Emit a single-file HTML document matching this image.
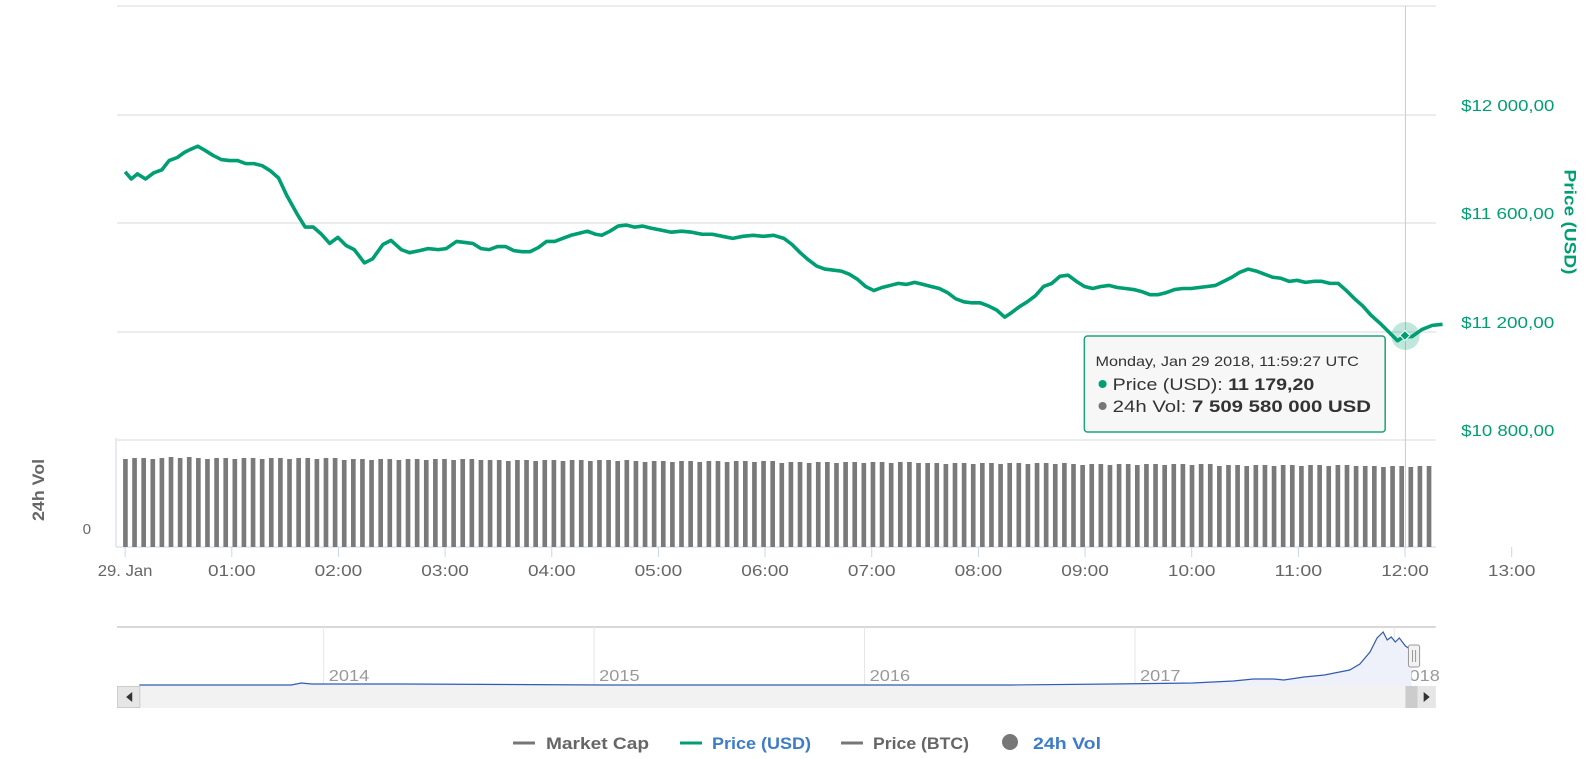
<!DOCTYPE html>
<html><head><meta charset="utf-8"><style>
body{margin:0;background:#fff;width:1596px;height:759px;overflow:hidden}
svg{display:block;font-family:"Liberation Sans","DejaVu Sans",sans-serif}
</style></head><body>
<svg id="s" width="1596" height="759" xmlns="http://www.w3.org/2000/svg">
<g transform="matrix(1.0129,0,0,1,-2.5,0)">
<g stroke="#e6e6e6" stroke-width="1.5">
<line x1="118" x2="1420" y1="6" y2="6"/><line x1="118" x2="1420" y1="115" y2="115"/>
<line x1="118" x2="1420" y1="223" y2="223"/><line x1="118" x2="1420" y1="332" y2="332"/>
<line x1="118" x2="1420" y1="440" y2="440"/>
</g>
<g fill="#009e73" font-size="16" lengthAdjust="spacingAndGlyphs">
<text x="1445" y="111" textLength="92" lengthAdjust="spacingAndGlyphs">$12 000,00</text><text x="1445" y="219" textLength="92" lengthAdjust="spacingAndGlyphs">$11 600,00</text>
<text x="1445" y="328" textLength="92" lengthAdjust="spacingAndGlyphs">$11 200,00</text><text x="1445" y="436" textLength="92" lengthAdjust="spacingAndGlyphs">$10 800,00</text>
</g>
<text transform="translate(1547,222) rotate(90)" fill="#009e73" font-size="16" font-weight="bold" text-anchor="middle" textLength="105" lengthAdjust="spacingAndGlyphs">Price (USD)</text>
<text transform="translate(46,490) rotate(-90)" fill="#666" font-size="16" font-weight="bold" text-anchor="middle" textLength="62" lengthAdjust="spacingAndGlyphs">24h Vol</text>
<text x="84" y="534" fill="#666" font-size="15">0</text>
<line x1="117" x2="117" y1="438" y2="547" stroke="#ccd6eb"/>
<line x1="117" x2="1420" y1="547" y2="547" stroke="#ccd6eb"/>
<g id="bars" fill="#7a7a7a"></g>
<g id="ticks" stroke="#ccd6eb"></g>
<g id="xl" fill="#666" font-size="16" text-anchor="middle"></g>
<line x1="1390" x2="1390" y1="6" y2="547" stroke="#ccc"/>
<g transform="translate(126,6) scale(1.0098,1.0236) translate(-122,-7)">
<polyline id="pl" fill="none" stroke="#009e73" stroke-width="3.5" stroke-linejoin="round"/>
</g>
<circle cx="1390" cy="336" r="14" fill="#009e73" opacity="0.25"/>
<rect x="1386" y="332" width="7" height="7" fill="#009e73" stroke="#fff" transform="rotate(45 1389.5 335.5)"/>
<!-- tooltip -->
<rect x="1073" y="336" width="297" height="96" rx="3" fill="#f7f7f7" stroke="#1fa37a" stroke-width="1.5"/>
<text x="1084" y="366" font-size="14" fill="#333" textLength="260" lengthAdjust="spacingAndGlyphs">Monday, Jan 29 2018, 11:59:27 UTC</text>
<circle cx="1091" cy="384" r="4" fill="#009e73"/>
<text x="1101" y="390" font-size="17" fill="#333" textLength="199" lengthAdjust="spacingAndGlyphs">Price (USD): <tspan font-weight="bold">11 179,20</tspan></text>
<circle cx="1091" cy="406" r="4" fill="#777"/>
<text x="1101" y="412" font-size="17" fill="#333" textLength="255" lengthAdjust="spacingAndGlyphs">24h Vol: <tspan font-weight="bold">7 509 580 000 USD</tspan></text>
<!-- navigator -->
<line x1="118" x2="1420" y1="627" y2="627" stroke="#ccc" stroke-width="1.5"/>
<g stroke="#e6e6e6"><line x1="322" x2="322" y1="627" y2="686"/><line x1="589" x2="589" y1="627" y2="686"/><line x1="856" x2="856" y1="627" y2="686"/><line x1="1123" x2="1123" y1="627" y2="686"/><line x1="1379" x2="1379" y1="627" y2="686"/></g>
<g fill="#999" font-size="16"><text x="327" y="681" textLength="40" lengthAdjust="spacingAndGlyphs">2014</text><text x="594" y="681" textLength="40" lengthAdjust="spacingAndGlyphs">2015</text><text x="861" y="681" textLength="40" lengthAdjust="spacingAndGlyphs">2016</text><text x="1128" y="681" textLength="40" lengthAdjust="spacingAndGlyphs">2017</text><text x="1384" y="681" textLength="40" lengthAdjust="spacingAndGlyphs">2018</text></g>
<path d="M140,685 L290,685 L300,683 L310,684 L400,684 L600,685 L1000,685 L1100,684 L1180,683 L1220,681 L1240,679 L1260,679 L1270,680 L1290,677 L1310,675 L1325,672 L1335,670 L1345,664 L1355,652 L1362,638 L1368,632 L1372,640 L1376,637 L1380,642 L1384,638 L1390,646 L1396,650 L1396,686 L140,686 Z" fill="#eef1f9"/>
<path d="M140,685 L290,685 L300,683 L310,684 L400,684 L600,685 L1000,685 L1100,684 L1180,683 L1220,681 L1240,679 L1260,679 L1270,680 L1290,677 L1310,675 L1325,672 L1335,670 L1345,664 L1355,652 L1362,638 L1368,632 L1372,640 L1376,637 L1380,642 L1384,638 L1390,646 L1396,650" fill="none" stroke="#335cad" stroke-width="1.2"/>
<rect x="118" y="686" width="1302" height="22" fill="#f2f2f2"/>
<rect x="118.5" y="686.5" width="22" height="21" fill="#e6e6e6" stroke="#ccc"/>
<path d="M133,692 L127,697 L133,702Z" fill="#333"/>
<rect x="1390" y="686" width="12" height="22" fill="#ccc"/>
<rect x="1402" y="686" width="18" height="22" fill="#e6e6e6"/>
<path d="M1408,692 L1414,697 L1408,702Z" fill="#333"/>
<rect x="1393" y="645" width="11" height="22" rx="2" fill="#f2f2f2" stroke="#999"/>
<line x1="1397" x2="1397" y1="650" y2="662" stroke="#999"/><line x1="1400" x2="1400" y1="650" y2="662" stroke="#999"/>
</g>
<!-- legend -->
<g font-size="17" font-weight="bold">
<line x1="513" x2="535" y1="743" y2="743" stroke="#777" stroke-width="3"/><text x="546" y="749" fill="#666" textLength="103" lengthAdjust="spacingAndGlyphs">Market Cap</text>
<line x1="680" x2="702" y1="743" y2="743" stroke="#009e73" stroke-width="3"/><text x="712" y="749" fill="#3d7cc9" textLength="99" lengthAdjust="spacingAndGlyphs">Price (USD)</text>
<line x1="841" x2="863" y1="743" y2="743" stroke="#777" stroke-width="3"/><text x="873" y="749" fill="#666" textLength="96" lengthAdjust="spacingAndGlyphs">Price (BTC)</text>
<circle cx="1010" cy="742" r="8" fill="#777"/><text x="1033" y="749" fill="#3d7cc9" textLength="68" lengthAdjust="spacingAndGlyphs">24h Vol</text>
</g>
</svg>
<script>
var pts=[[122,169],[128,176],[134,171],[142,176],[150,170],[158,167],[165,158],[173,155],[180,150],[186,147],[193,144],[200,148],[208,153],[216,157],[224,158],[232,158],[240,161],[248,161],[256,163],[264,168],[272,175],[280,192],[290,210],[298,223],[306,223],[314,230],[322,239],[330,233],[338,241],[346,245],[356,258],[364,254],[374,240],[382,236],[392,245],[400,248],[410,246],[418,244],[428,245],[436,244],[446,237],[454,238],[462,239],[470,244],[478,245],[486,242],[494,242],[502,246],[510,247],[518,247],[526,243],[534,237],[542,237],[550,234],[558,231],[566,229],[574,227],[582,230],[588,231],[596,227],[604,222],[612,221],[620,223],[628,222],[636,224],[646,226],[656,228],[666,227],[676,228],[686,230],[696,230],[706,232],[716,234],[726,232],[736,231],[746,232],[756,231],[766,234],[774,240],[782,248],[790,255],[798,261],[806,264],[814,265],[822,266],[830,269],[838,274],[846,281],[854,285],[862,282],[870,280],[878,278],[886,279],[894,277],[902,279],[910,281],[918,283],[926,287],[934,293],[942,296],[950,297],[958,297],[966,300],[974,304],[982,311],[988,307],[996,301],[1004,296],[1012,290],[1020,281],[1028,278],[1036,271],[1044,270],[1052,276],[1060,281],[1068,283],[1076,281],[1084,280],[1092,282],[1100,283],[1108,284],[1116,286],[1124,289],[1132,289],[1140,287],[1148,284],[1156,283],[1164,283],[1172,282],[1180,281],[1188,280],[1196,276],[1204,272],[1212,267],[1220,264],[1228,266],[1236,269],[1244,272],[1252,273],[1260,276],[1268,275],[1276,277],[1284,276],[1292,276],[1300,278],[1308,278],[1316,285],[1324,293],[1332,300],[1340,309],[1350,318],[1358,326],[1366,334],[1372,330],[1380,330],[1390,323],[1400,319],[1410,318]];
document.getElementById('pl').setAttribute('points',pts.map(p=>p.join(',')).join(' '));
var b=document.getElementById('bars'),h='';
for(var x=124,i=0;x<1418;x+=9,i++){var t=457+Math.round(9*(x-124)/1294)+((i*7)%3==0?1:0);if(i<5)t+=1;h+='<rect x="'+x+'" y="'+t+'" width="4.6" height="'+(547-t)+'"/>';}
b.innerHTML=h;
var lab=['29. Jan','01:00','02:00','03:00','04:00','05:00','06:00','07:00','08:00','09:00','10:00','11:00','12:00','13:00'],th='',lh='';
for(var k=0;k<14;k++){var xx=126+k*105.3;th+='<line x1="'+xx+'" x2="'+xx+'" y1="547" y2="557"/>';lh+='<text x="'+xx+'" y="576" textLength="'+(k==0?54:47)+'" lengthAdjust="spacingAndGlyphs">'+lab[k]+'</text>';}
document.getElementById('ticks').innerHTML=th;document.getElementById('xl').innerHTML=lh;
</script>
</body></html>
